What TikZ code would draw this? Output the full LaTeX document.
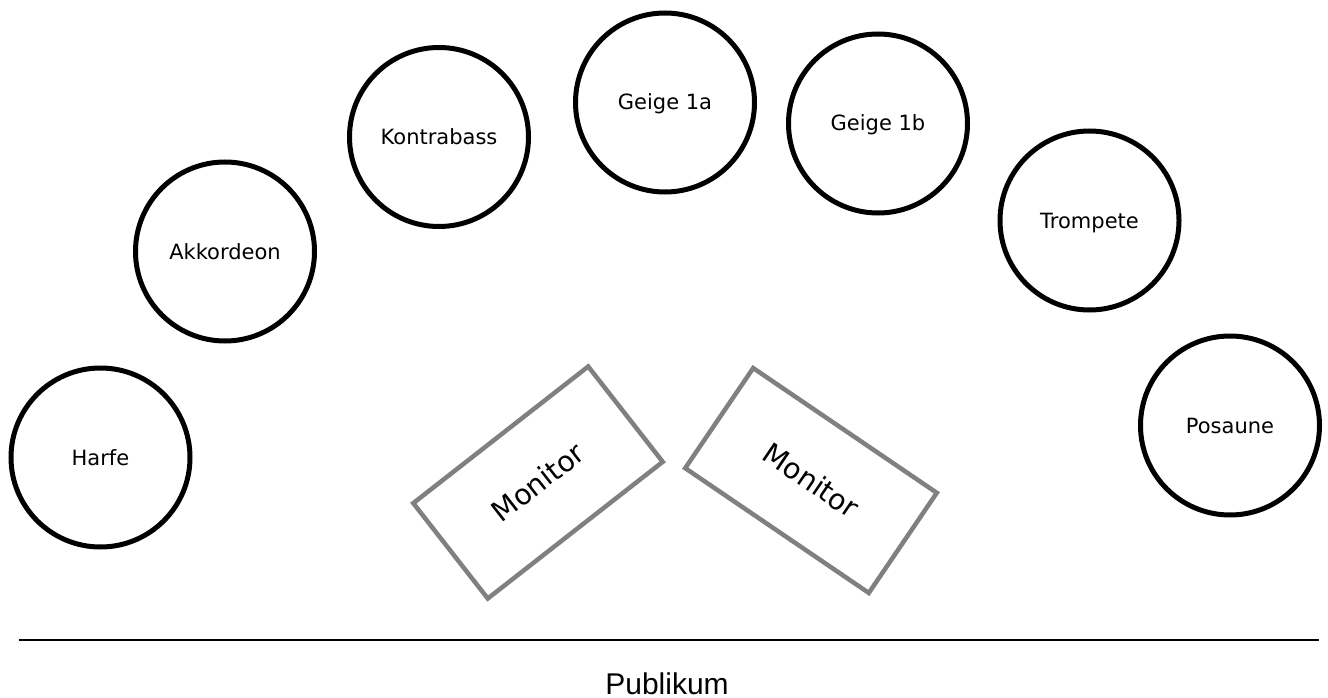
\documentclass[tikz,border=0pt]{standalone}
\usepackage{fontspec}
\setmainfont{DejaVu Sans}
\newfontfamily\publikumfont{Liberation Sans}
\usetikzlibrary{positioning}
\definecolor{monitorgray}{RGB}{128,128,128}

\begin{document}
\begin{tikzpicture}[x=1pt,y=-1pt,
	player/.style={circle,draw=black,line width=5pt,minimum size=179pt,inner sep=0pt,text height=15pt,text depth=0pt,font=\fontsize{21}{25}\selectfont},
	monitorbox/.style={rectangle,draw=monitorgray,line width=4.5pt,minimum width=222pt,minimum height=121pt,inner sep=0pt,text height=20.5pt,text depth=0pt,font=\fontsize{28.5}{34}\selectfont}]
		\useasboundingbox (0,0) rectangle (1328,698);
		\node[player] (harfe) at (100.5,457.5) {Harfe};
		\node[player] (akkordeon) at (225,251.5) {Akkordeon};
		\node[player] (kontrabass) at (439,137) {Kontrabass};
		\node[player] (geigea) at (665,102.5) {Geige 1a};
		\node[player] (geigeb) at (878,123.5) {Geige 1b};
		\node[player] (trompete) at (1089.5,220.5) {Trompete};
		\node[player] (posaune) at (1230,425.5) {Posaune};
		\node[monitorbox,rotate=38] (monitorl) at (538,482.5) {Monitor};
		\node[monitorbox,rotate=-34.2] (monitorr) at (811,480.5) {Monitor};
		\coordinate (buehnel) at (19,640);
		\coordinate (buehner) at (1318.5,640);
		\draw[line width=2.5pt] (buehnel) -- (buehner);
		\node[font=\publikumfont\fontsize{30}{36}\selectfont,anchor=base] (publikum) at (667,694) {Publikum};
	\end{tikzpicture}
\end{document}
